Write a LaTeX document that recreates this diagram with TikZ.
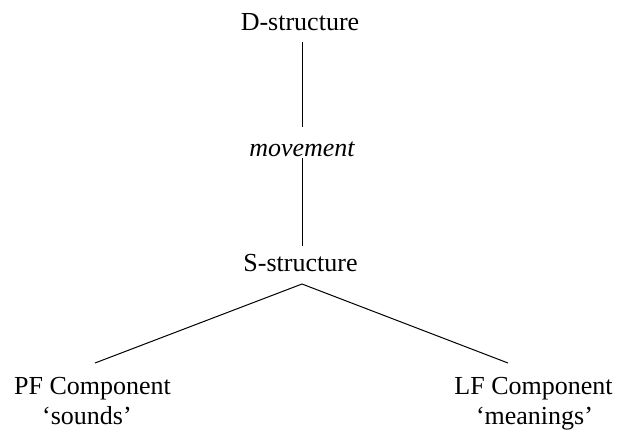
\documentclass[tikz,border=0pt]{standalone}
\usepackage{fontspec}
\setmainfont{Liberation Serif}
\begin{document}
\begin{tikzpicture}[x=1pt,y=-1pt,
  lbl/.style={anchor=base,inner sep=0pt,font=\fontsize{26}{31}\selectfont},
  branch/.style={line width=1pt,black}]
\useasboundingbox (0,0) rectangle (619,432);
% levels of representation
\node[lbl] (ds) at (300,30) {D-structure};
\node[lbl,font=\fontsize{26}{31}\selectfont\itshape] (mv) at (302,156) {movement};
\node[lbl] (ss) at (300.5,271) {S-structure};
\node[lbl] (pf) at (92.5,394) {PF Component};
\node[lbl] (pfg) at (87,424) {`sounds'};
\node[lbl] (lf) at (533.5,394) {LF Component};
\node[lbl] (lfg) at (534.5,424) {`meanings'};
% attachment points of the branches
\coordinate (dsb) at (302.5,42);
\coordinate (mvt) at (302.5,127);
\coordinate (mvb) at (302.5,158);
\coordinate (sst) at (302.5,246);
\coordinate (apex) at (302,284);
\coordinate (pft) at (95,363);
\coordinate (lft) at (508,363);
\draw[branch] (dsb) -- (mvt);
\draw[branch] (mvb) -- (sst);
\draw[branch] (pft) -- (apex) -- (lft);
\end{tikzpicture}
\end{document}
